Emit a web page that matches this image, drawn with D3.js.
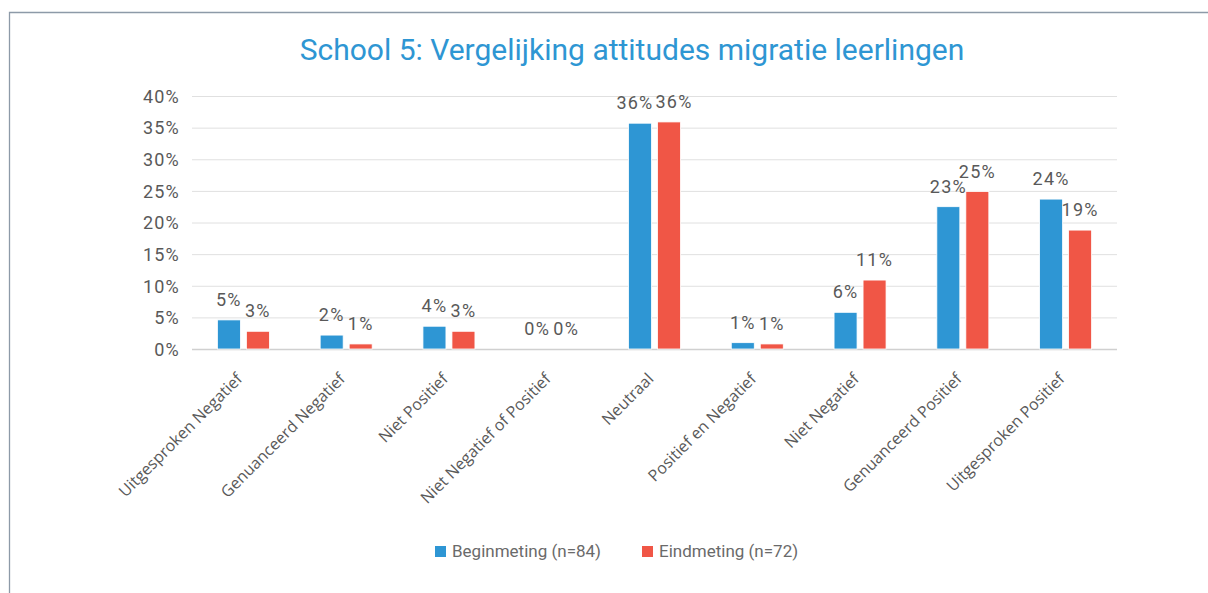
<!DOCTYPE html>
<html><head><meta charset="utf-8">
<script src="https://cdn.jsdelivr.net/npm/d3@7"></script>
<style>body{margin:0;background:#fff;}svg{display:block;}</style>
</head><body>
<svg id="chart" width="1208" height="593"></svg>
<script>
const categories = ["Uitgesproken Negatief","Genuanceerd Negatief","Niet Positief","Niet Negatief of Positief","Neutraal","Positief en Negatief","Niet Negatief","Genuanceerd Positief","Uitgesproken Positief"];
const seriesNames = ["Beginmeting (n=84)","Eindmeting (n=72)"];
const beginValues = [4.6, 2.2, 3.6, 0, 35.7, 1.0, 5.8, 22.5, 23.7];
const eindValues = [2.8, 0.8, 2.8, 0, 35.9, 0.8, 10.9, 24.9, 18.8];
const yTicks = [0,5,10,15,20,25,30,35,40];
const colors = ["#2E96D4","#F05646"];
const title = "School 5: Vergelijking attitudes migratie leerlingen";

const svg = d3.select("#chart");
const W = 1208, H = 593;
const m = {left:192, right:1117, top:96, bottom:349};
const numFont = "Roboto, sans-serif";

// frame
svg.append("path").attr("d", `M9.5,${H} L9.5,12.5 L${W},12.5`).attr("fill","none").attr("stroke","#8d9aa8").attr("stroke-width",1.3);

svg.append("text").attr("x",632).attr("y",60).attr("text-anchor","middle")
  .attr("font-family","Roboto, sans-serif").attr("font-size",30).attr("fill","#2E96D3").text(title);

const x = d3.scaleBand().domain(categories).range([m.left, m.right]).paddingInner(0).paddingOuter(0);
const y = d3.scaleLinear().domain([0,40]).range([m.bottom, m.top]);

// gridlines
svg.append("g").selectAll("line").data(yTicks).join("line")
  .attr("x1",m.left).attr("x2",m.right).attr("y1",d=>y(d)+0.5).attr("y2",d=>y(d)+0.5)
  .attr("stroke",d=>d===0?"#d0d0d0":"#e0e0e0").attr("stroke-width",d=>d===0?1.6:1);

// y axis labels
const yAxis = d3.axisLeft(y).tickValues(yTicks).tickFormat(d=>d+"%").tickSize(0).tickPadding(0);
const ya = svg.append("g").attr("transform",`translate(${m.left-12},0)`).call(yAxis);
ya.select(".domain").remove();
ya.selectAll("text").attr("font-family",numFont).attr("font-size",18).attr("letter-spacing",1.2).attr("fill","#595959").attr("dy","0.35em");

// x axis labels
const xa = svg.append("g").attr("transform",`translate(0,${m.bottom})`)
  .call(d3.axisBottom(x).tickSize(0).tickPadding(0));
xa.select(".domain").remove();
xa.selectAll("text")
  .attr("font-family","'Open Sans', sans-serif").attr("font-size",16).attr("fill","#595959")
  .attr("text-anchor","end").attr("dy",0).attr("y",0)
  .attr("transform","translate(0,31) rotate(-45)");

// bars
const barW = 23, gap = 6;
const series = [beginValues, eindValues];
const labelSel = [];
series.forEach((vals,si)=>{
  const off = si===0 ? -(barW+gap/2) : gap/2;
  const g = svg.append("g");
  g.selectAll("rect").data(vals).join("rect")
    .attr("x",(d,i)=>x(categories[i])+x.bandwidth()/2+off)
    .attr("y",d=>y(d)).attr("width",barW).attr("height",d=>y(0)-y(d))
    .attr("fill",colors[si]).attr("stroke","#fff").attr("stroke-width",0.8);
  labelSel.push(g.selectAll("text").data(vals).join("text")
    .attr("x",(d,i)=>x(categories[i])+x.bandwidth()/2+off+barW/2)
    .attr("y",d=>y(d)-14)
    .attr("text-anchor","middle").attr("font-family",numFont).attr("font-size",18).attr("letter-spacing",1.2).attr("fill","#595959")
    .text(d=>Math.round(d)+"%"));
});
// push apart overlapping pairs of labels at similar heights
const bNodes = labelSel[0].nodes(), rNodes = labelSel[1].nodes();
categories.forEach((c,i)=>{
  const b = bNodes[i], r = rNodes[i];
  const by = +b.getAttribute("y"), ry = +r.getAttribute("y");
  if (Math.abs(by-ry) > 10) return;
  const bx = +b.getAttribute("x"), rx = +r.getAttribute("x");
  const need = b.getComputedTextLength()/2 + r.getComputedTextLength()/2 + 2 - (rx-bx);
  if (need > 8) {
    b.setAttribute("x", bx - need/2);
    r.setAttribute("x", rx + need/2);
  }
});

// legend
const leg = svg.append("g");
const lx = [435, 642];
seriesNames.forEach((n,i)=>{
  leg.append("rect").attr("x",lx[i]).attr("y",546).attr("width",11).attr("height",11).attr("fill",colors[i]);
  leg.append("text").attr("x",lx[i]+17).attr("y",557).attr("font-family",numFont).attr("font-size",17).attr("fill","#6a6a6a").text(n);
});
</script>
</body></html>
